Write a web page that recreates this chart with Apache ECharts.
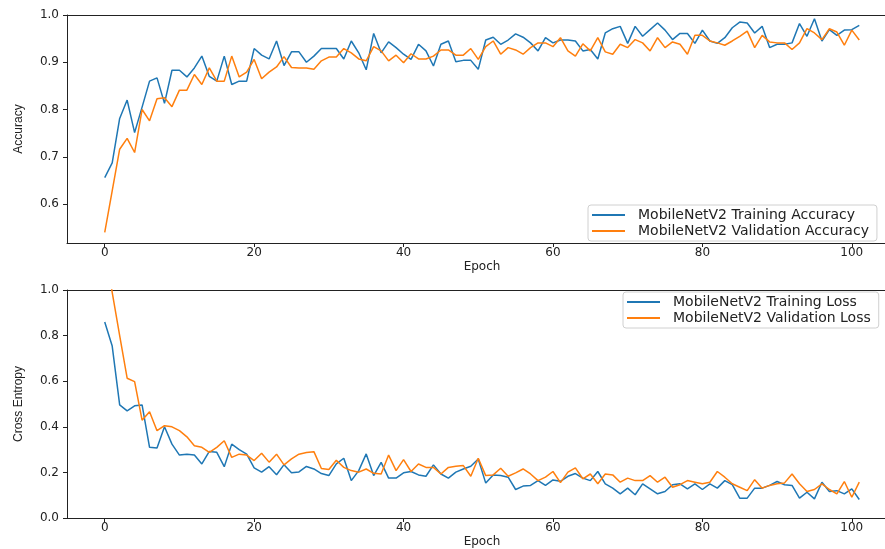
<!DOCTYPE html>
<html>
<head>
<meta charset="utf-8">
<script src="https://cdn.jsdelivr.net/npm/echarts@6/dist/echarts.min.js"></script>
<style>
  html, body { margin: 0; padding: 0; background: #fff; overflow: hidden; }
  /* the reference plot runs past the right edge, so the canvas is a bit wider than the window */
  #main { width: 905px; height: 549px; }
</style>
</head>
<body>
<div id="main"></div>
<script>
// values, epoch 0..101
var trainAcc = [0.656,0.687,0.781,0.820,0.751,0.805,0.860,0.867,0.813,0.883,0.883,0.869,0.888,0.913,0.870,0.860,0.913,0.853,0.860,0.860,
  0.929,0.915,0.907,0.945,0.893,0.922,0.922,0.900,0.913,0.929,0.929,0.929,0.907,0.945,0.920,0.884,0.961,0.920,0.943,0.931,
  0.917,0.906,0.938,0.924,0.892,0.938,0.945,0.901,0.904,0.904,0.885,0.947,0.953,0.938,0.947,0.960,0.953,0.941,0.924,0.952,
  0.941,0.947,0.947,0.945,0.924,0.927,0.907,0.962,0.971,0.976,0.940,0.976,0.955,0.969,0.983,0.968,0.948,0.961,0.961,0.940,
  0.968,0.945,0.940,0.952,0.973,0.985,0.983,0.962,0.976,0.931,0.938,0.938,0.941,0.982,0.955,0.992,0.945,0.969,0.957,0.968,
  0.969,0.978];
var valAcc = [0.540,0.628,0.716,0.739,0.709,0.800,0.776,0.823,0.825,0.806,0.841,0.841,0.874,0.853,0.888,0.860,0.860,0.913,0.869,0.879,
  0.906,0.865,0.879,0.890,0.912,0.889,0.888,0.888,0.885,0.903,0.911,0.911,0.929,0.920,0.907,0.903,0.933,0.924,0.903,0.915,
  0.899,0.918,0.907,0.907,0.913,0.926,0.926,0.915,0.915,0.929,0.906,0.933,0.945,0.917,0.931,0.926,0.917,0.931,0.941,0.941,
  0.933,0.952,0.924,0.913,0.939,0.924,0.952,0.922,0.917,0.938,0.931,0.948,0.941,0.924,0.952,0.931,0.943,0.938,0.917,0.957,
  0.957,0.945,0.941,0.936,0.945,0.955,0.966,0.931,0.957,0.943,0.941,0.941,0.927,0.941,0.971,0.962,0.948,0.971,0.964,0.936,
  0.968,0.947];
var trainLoss = [0.860,0.754,0.496,0.470,0.492,0.496,0.310,0.307,0.400,0.324,0.276,0.280,0.276,0.237,0.292,0.288,0.225,0.324,0.300,0.280,
  0.220,0.201,0.225,0.190,0.234,0.198,0.202,0.226,0.215,0.195,0.186,0.237,0.262,0.164,0.208,0.281,0.186,0.244,0.175,0.175,
  0.198,0.204,0.189,0.183,0.233,0.193,0.175,0.201,0.215,0.227,0.259,0.153,0.189,0.186,0.179,0.125,0.140,0.143,0.164,0.143,
  0.167,0.161,0.183,0.195,0.175,0.164,0.204,0.150,0.131,0.106,0.131,0.102,0.150,0.128,0.106,0.116,0.146,0.150,0.128,0.150,
  0.125,0.150,0.131,0.164,0.146,0.087,0.087,0.131,0.131,0.143,0.160,0.146,0.143,0.087,0.113,0.084,0.157,0.116,0.120,0.106,
  0.128,0.081];
var valLoss = [1.20,0.99,0.80,0.613,0.598,0.429,0.466,0.383,0.405,0.400,0.383,0.356,0.317,0.310,0.288,0.310,0.339,0.266,0.280,0.276,
  0.252,0.284,0.245,0.280,0.233,0.259,0.280,0.287,0.291,0.217,0.213,0.253,0.222,0.208,0.201,0.215,0.196,0.193,0.276,0.208,
  0.256,0.204,0.237,0.222,0.222,0.193,0.222,0.227,0.230,0.183,0.262,0.186,0.189,0.218,0.183,0.198,0.215,0.193,0.164,0.179,
  0.204,0.155,0.201,0.220,0.172,0.193,0.150,0.193,0.189,0.157,0.175,0.164,0.164,0.186,0.157,0.179,0.135,0.146,0.164,0.157,
  0.150,0.157,0.204,0.179,0.150,0.135,0.120,0.168,0.131,0.143,0.150,0.154,0.193,0.150,0.116,0.125,0.150,0.125,0.106,0.160,
  0.091,0.157];

var epochTicks = [0, 20, 40, 60, 80, 100];
var accTicks = [0.6, 0.7, 0.8, 0.9, 1.0];
var lossTicks = [0.0, 0.2, 0.4, 0.6, 0.8, 1.0];

var blue = '#1f77b4', orange = '#ff7f0e';
var font = 'DejaVu Sans';
var frame = { show: true, onZero: false, lineStyle: { color: '#222', width: 1 } };

function pairs(arr) {
  var out = [];
  for (var i = 0; i < arr.length; i++) out.push([i, arr[i]]);
  return out;
}

function xAxisFor(idx) {
  return {
    type: 'value', gridIndex: idx, min: -5.05, max: 106.05,
    name: 'Epoch', nameLocation: 'middle', nameGap: 18,
    nameTextStyle: { fontFamily: font, fontSize: 12, color: '#222' },
    axisLine: frame,
    axisTick: { show: true, length: 4, customValues: epochTicks, lineStyle: { color: '#222' } },
    axisLabel: { customValues: epochTicks, margin: 4, fontFamily: font, fontSize: 12, color: '#222' },
    splitLine: { show: false }
  };
}

// top spine only
function topSpine(idx) {
  return {
    type: 'value', gridIndex: idx, position: 'top', min: -5.05, max: 106.05,
    axisLine: frame, axisTick: { show: false }, axisLabel: { show: false }, splitLine: { show: false }
  };
}

function yAxisFor(idx, name, min, max, ticks) {
  return {
    type: 'value', gridIndex: idx, min: min, max: max,
    name: name, nameLocation: 'middle', nameRotate: 90, nameGap: 42,
    nameTextStyle: { fontFamily: 'Liberation Sans', fontSize: 12, color: '#222' },
    axisLine: frame,
    axisTick: { show: true, length: 4, customValues: ticks, lineStyle: { color: '#222' } },
    axisLabel: {
      customValues: ticks, margin: 8, fontFamily: font, fontSize: 12, color: '#222',
      formatter: function (v) { return v.toFixed(1); }
    },
    splitLine: { show: false }
  };
}

function lineSeries(name, data, color, idx) {
  return {
    name: name, type: 'line', xAxisIndex: idx, yAxisIndex: idx,
    data: pairs(data), showSymbol: false, clip: true,
    lineStyle: { color: color, width: 1.5 }, itemStyle: { color: color }
  };
}

function legendFor(names, left, top) {
  return {
    data: names, orient: 'vertical', left: left, top: top,
    icon: 'rect', itemWidth: 33, itemHeight: 2, itemGap: 2,
    padding: [3, 8, 3, 4],
    borderColor: '#d0d0d0', borderWidth: 1, borderRadius: 3,
    backgroundColor: 'rgba(255,255,255,0.8)',
    textStyle: { fontFamily: font, fontSize: 14, color: '#222', padding: [0, 0, 0, 8] }
  };
}

var myChart = echarts.init(document.getElementById('main'));
var option = {
  animation: false,
  backgroundColor: '#fff',
  grid: [
    { left: 67, width: 830, top: 15, height: 228 },
    { left: 67, width: 830, top: 290, height: 229 }
  ],
  legend: [
    legendFor(['MobileNetV2 Training Accuracy', 'MobileNetV2 Validation Accuracy'], 588, 205),
    legendFor(['MobileNetV2 Training Loss', 'MobileNetV2 Validation Loss'], 623, 292)
  ],
  xAxis: [xAxisFor(0), xAxisFor(1), topSpine(0), topSpine(1)],
  yAxis: [
    yAxisFor(0, 'Accuracy', 0.5175, 1.0, accTicks),
    yAxisFor(1, 'Cross Entropy', 0, 1.0, lossTicks)
  ],
  series: [
    lineSeries('MobileNetV2 Training Accuracy', trainAcc, blue, 0),
    lineSeries('MobileNetV2 Validation Accuracy', valAcc, orange, 0),
    lineSeries('MobileNetV2 Training Loss', trainLoss, blue, 1),
    lineSeries('MobileNetV2 Validation Loss', valLoss, orange, 1)
  ]
};
myChart.setOption(option);
</script>
</body>
</html>
